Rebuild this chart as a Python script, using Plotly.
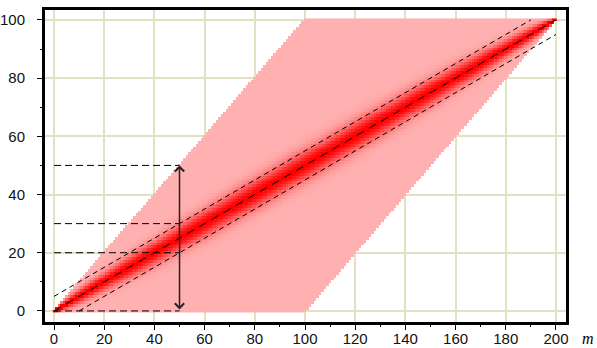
import math
import plotly.graph_objects as go

# Model: hypergeometric distribution of k marked items when drawing m of N items, K marked
N_TOTAL = 200
K_MARKED = 100
m_values = list(range(0, N_TOTAL + 1))
k_values = list(range(0, K_MARKED + 1))

# Reference guide lines
band_offset = 5
guide_levels = [0, 20, 30, 50]
arrow_m = 50
arrow_k = [0, 50]

x_ticks = [0, 20, 40, 60, 80, 100, 120, 140, 160, 180, 200]
y_ticks = [0, 20, 40, 60, 80, 100]


def log_comb(n, r):
    return math.lgamma(n + 1) - math.lgamma(r + 1) - math.lgamma(n - r + 1)


z = [[None] * len(m_values) for _ in k_values]
for j, m in enumerate(m_values):
    lo = max(0, m - (N_TOTAL - K_MARKED))
    hi = min(m, K_MARKED)
    logs = {}
    for k in range(lo, hi + 1):
        logs[k] = log_comb(K_MARKED, k) + log_comb(N_TOTAL - K_MARKED, m - k) - log_comb(N_TOTAL, m)
    mx = max(logs.values())
    for k, lv in logs.items():
        z[k][j] = math.exp(lv - mx)

fig = go.Figure()
fig.add_trace(go.Heatmap(
    x=m_values, y=k_values, z=z,
    colorscale=[[0, "#ffb0b0"], [0.5, "#ff5a5a"], [1, "#ff0000"]],
    zmin=0, zmax=1, showscale=False, hoverinfo="skip", zsmooth=False,
))

# Center line k = m/2
fig.add_trace(go.Scatter(x=[0, N_TOTAL], y=[0, K_MARKED], mode="lines",
                         line=dict(color="black", width=1, dash="8px,6px"), hoverinfo="skip"))
# Upper band
fig.add_trace(go.Scatter(x=[0, N_TOTAL - 2 * band_offset], y=[band_offset, K_MARKED], mode="lines",
                         line=dict(color="black", width=1, dash="5px,4px"), hoverinfo="skip"))
# Lower band
fig.add_trace(go.Scatter(x=[2 * band_offset, N_TOTAL], y=[0, K_MARKED - band_offset], mode="lines",
                         line=dict(color="black", width=1, dash="5px,4px"), hoverinfo="skip"))
# Horizontal guide lines
for lv in guide_levels:
    fig.add_trace(go.Scatter(x=[0, arrow_m], y=[lv, lv], mode="lines",
                             line=dict(color="black", width=1, dash="7px,4px"), hoverinfo="skip"))

fig.add_annotation(x=arrow_m, y=arrow_k[1], ax=arrow_m, ay=arrow_k[0], axref="x", ayref="y",
                   xref="x", yref="y", showarrow=True, text="", arrowhead=4, startarrowhead=4,
                   arrowside="end+start", arrowsize=1.2, startarrowsize=1.2, arrowwidth=1.5,
                   arrowcolor="#222222", standoff=0, startstandoff=0)

ML, MR, MT, MB = 45, 31, 10, 26
PW = 597 - ML - MR
PH = 348 - MT - MB
fig.add_annotation(x=(588 - ML) / PW, y=-(338 - (348 - MB)) / PH, xref="paper", yref="paper",
                   text="<i>m</i>", showarrow=False, xanchor="center", yanchor="middle",
                   font=dict(family="Liberation Serif, Times New Roman, serif", size=16, color="black"))

tick_font = dict(family="Liberation Sans Narrow, Arial Narrow, Liberation Sans, sans-serif", size=15, color="#111111")
grid_color = "#e2e2c0"

fig.update_layout(
    width=597, height=348,
    margin=dict(l=ML, r=MR, t=MT, b=MB, autoexpand=False),
    paper_bgcolor="white", plot_bgcolor="white",
    showlegend=False,
    xaxis=dict(range=[-3.6, 204], tickvals=x_ticks, showgrid=True, gridcolor=grid_color, gridwidth=1.5,
               zeroline=False, showline=True, linecolor="black", linewidth=3, mirror=True, automargin=False,
               ticks="outside", ticklen=5, tickcolor="black", tickwidth=1, tickfont=tick_font,
               ticklabelstandoff=-4,
               minor=dict(dtick=10, tick0=0, ticks="outside", ticklen=2, tickcolor="black", showgrid=False)),
    yaxis=dict(range=[-3.8, 103.4], tickvals=y_ticks, showgrid=True, gridcolor=grid_color, gridwidth=1.5,
               zeroline=False, showline=True, linecolor="black", linewidth=3, mirror=True, automargin=False,
               ticks="outside", ticklen=5, tickcolor="black", tickwidth=1, tickfont=tick_font,
               ticklabelstandoff=9,
               minor=dict(dtick=10, tick0=0, ticks="outside", ticklen=2, tickcolor="black", showgrid=False)),
)

fig.write_html("out.html", config={"displayModeBar": False},
               post_script="document.body.style.margin='0';document.body.style.overflow='hidden';")
